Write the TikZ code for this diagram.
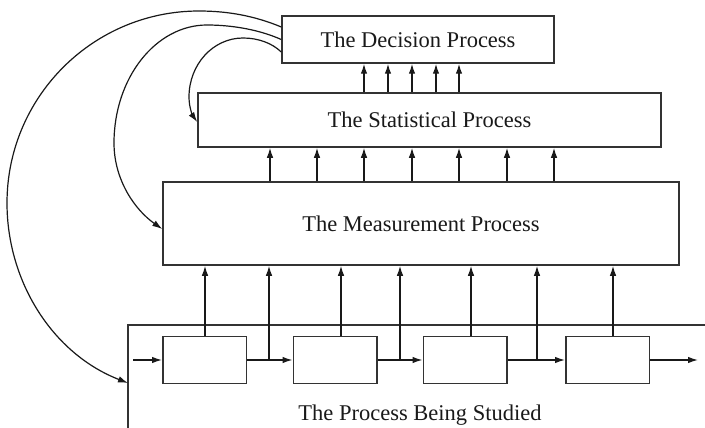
\documentclass[tikz,border=0pt]{standalone}
\usepackage{fontspec}
\setmainfont{Liberation Serif}
\usetikzlibrary{arrows.meta}
\begin{document}
\begin{tikzpicture}[x=1pt,y=-1pt,
  box/.style={draw=black!80, line width=1.5pt, inner sep=0pt, text=black!90,
    font=\fontsize{22.5}{27}\selectfont},
  lbl/.style={inner sep=0pt, text=black!90, font=\fontsize{22.5}{27}\selectfont},
  boxline/.style={draw=black!80, line width=1.5pt},
  arr/.style={line width=1.3pt, draw=black!90, -{Latex[length=10pt,width=6.5pt]}},
  curve/.style={line width=1.2pt, draw=black!90, -{Latex[length=10pt,width=6.5pt]}}]
\useasboundingbox (0,0) rectangle (705,428);

% main boxes
\node[box, minimum width=272pt, minimum height=47pt] (dec) at (418,39.5) {The Decision Process};
\node[box, minimum width=463pt, minimum height=54pt] (stat) at (429.5,120) {The Statistical Process};
\node[box, minimum width=516pt, minimum height=83pt] (meas) at (421,223.5) {The Measurement Process};

% process being studied
\coordinate (ptl) at (128,325);
\coordinate (ptr) at (705,325);
\coordinate (pbl) at (128,430);
\draw[boxline] (ptr) -- (ptl) -- (pbl);
\node[lbl, anchor=base] (ptext) at (420,420) {The Process Being Studied};

% small boxes
\node[box, minimum width=83.5pt, minimum height=47pt] (b1) at (204.5,360) {};
\node[box, minimum width=83.5pt, minimum height=47pt] (b2) at (335,360) {};
\node[box, minimum width=83.5pt, minimum height=47pt] (b3) at (465,360) {};
\node[box, minimum width=83.5pt, minimum height=47pt] (b4) at (607.5,360) {};

\coordinate (in) at (133,360);
\coordinate (out) at (698,360);
\coordinate (j1) at (269,360);
\coordinate (j2) at (400,360);
\coordinate (j3) at (537,360);

\draw[arr] (in) -- (b1.west);
\draw[arr] (b1.east) -- (b2.west);
\draw[arr] (b2.east) -- (b3.west);
\draw[arr] (b3.east) -- (b4.west);
\draw[arr] (b4.east) -- (out);

% process -> measurement
\coordinate (t1) at ([xshift=0.5pt]b1.north);
\coordinate (t2) at ([xshift=6pt]b2.north);
\coordinate (t3) at ([xshift=6pt]b3.north);
\coordinate (t4) at ([xshift=5.5pt]b4.north);
\foreach \p in {t1,j1,t2,j2,t3,j3,t4}
  \draw[arr] (\p) -- (\p |- meas.south);

% measurement -> statistical
\foreach \x [count=\i] in {270,317,364,412,459,507,554} {
  \coordinate (ms\i) at (\x,150);
  \draw[arr] (ms\i |- meas.north) -- (ms\i |- stat.south);
}
% statistical -> decision
\foreach \x [count=\i] in {364,388,412,436,459} {
  \coordinate (sd\i) at (\x,80);
  \draw[arr] (sd\i |- stat.north) -- (sd\i |- dec.south);
}

% feedback curves
\coordinate (d1) at ([yshift=12.5pt]dec.west);
\coordinate (d2) at (dec.west);
\coordinate (d3) at ([yshift=-12.5pt]dec.west);
\coordinate (pin) at (128,383);
\coordinate (min) at ([yshift=-5.5pt]meas.west);
\coordinate (sin) at ([yshift=-2pt]stat.west);

\draw[curve] (d1) .. controls (255,16) and (228,11) .. (199,11)
  .. controls (93,11) and (7,97) .. (7,203)
  .. controls (7,282) and (53,354) .. (pin);
\draw[curve] (d2) .. controls (260,30) and (233,25) .. (207,25)
  .. controls (155.7,25) and (114,78) .. (114,143)
  .. controls (114,180) and (135,210) .. (min);
\draw[curve] (d3) .. controls (272,43) and (258,38) .. (243,38)
  .. controls (213,38) and (189,64.5) .. (189,97)
  .. controls (189,108) and (193,116) .. (sin);
\end{tikzpicture}
\end{document}
